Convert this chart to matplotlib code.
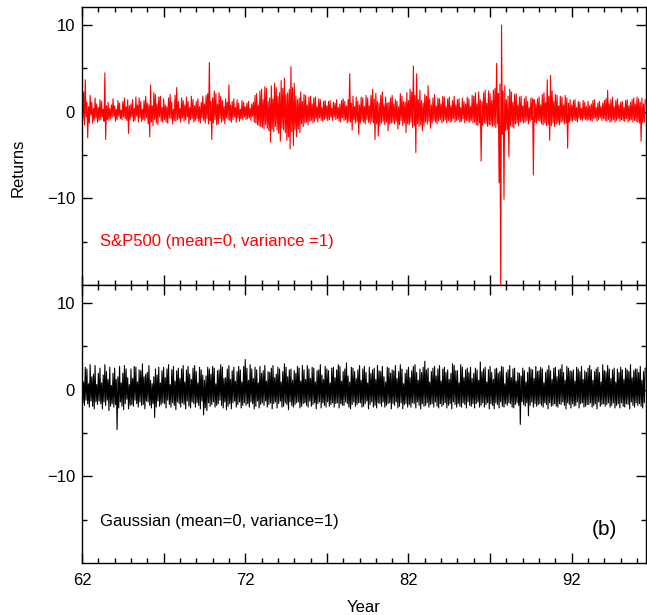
import numpy as np
import matplotlib
matplotlib.use('Agg')
import matplotlib.pyplot as plt
from matplotlib.ticker import MultipleLocator, FixedLocator, FuncFormatter

plt.rcParams['font.family'] = ['Liberation Sans', 'DejaVu Sans']

sp500_returns = [
    1.2, -0.8, 2.3, -1.5, 3.7, -0.6, 1.1, -3.0, 0.6, -1.3, 1.9, -0.4, 1.1, -1.3, 0.4, -1.0, 1.6, -0.7, 0.9, -1.2,  # 62
    0.5, -1.0, 1.4, -0.9, 1.2, -0.6, 0.3, -1.1, 4.5, -3.2, 0.7, -0.9, 1.1, -1.0, 0.4, -0.8, 0.8, -0.6, 1.5, -0.5,  # 63
    0.7, -1.1, 0.3, -0.9, 1.3, -0.5, 1.0, -0.8, 0.2, -0.9, 1.2, -0.6, 1.6, -0.8, 0.6, -1.0, 1.4, -2.5, 0.7, -0.9,  # 64
    0.9, -0.6, 1.4, -1.1, 0.4, -1.0, 1.7, -0.5, 0.8, -1.2, 1.6, -0.7, 1.2, -1.1, 0.3, -0.9, 1.3, -1.0, 1.8, -0.7,  # 65
    1.0, -1.4, 0.8, -2.9, 3.1, -1.2, 0.7, -1.6, 2.2, -0.9, 2.0, -1.3, 0.9, -1.5, 1.7, -0.6, 1.8, -1.1, 0.5, -1.2,  # 66
    1.5, -0.9, 0.8, -1.2, 0.6, -1.3, 1.6, -0.7, 2.0, -0.8, 1.1, -1.4, 0.3, -1.0, 1.9, -1.1, 2.8, -0.9, 1.2, -0.8,  # 67
    0.4, -1.2, 1.6, -0.7, 1.3, -1.1, 0.8, -0.9, 1.7, -0.6, 1.2, -1.4, 0.5, -0.9, 1.8, -0.8, 1.4, -1.2, 0.7, -1.0,  # 68
    1.2, -0.8, 1.5, -1.1, 0.6, -1.3, 1.1, -0.7, 1.8, -1.0, 0.9, -1.3, 1.9, -0.8, 2.1, -1.4, 5.7, -1.0, 1.2, -3.2,  # 69
    1.6, -1.3, 2.4, -0.9, 2.1, -1.5, 0.9, -1.4, 2.2, -0.8, 1.8, -1.2, 1.3, -1.0, 0.6, -1.4, 1.5, -0.7, 1.1, -0.9,  # 70
    3.1, -1.0, 0.8, -1.2, 1.2, -0.9, 1.5, -0.6, 0.5, -1.2, 1.4, -0.7, 1.0, -1.1, 0.3, -0.8, 1.3, -0.9, 1.1, -0.6,  # 71
    0.6, -0.9, 1.0, -0.8, 1.2, -0.7, 0.4, -1.0, 0.9, -0.5, 1.1, -1.2, 1.9, -1.3, 2.1, -1.5, 0.8, -1.6, 2.4, -1.7,  # 72
    2.6, -1.8, 1.4, -2.0, 2.9, -1.5, 2.7, -1.9, 1.2, -2.2, 1.6, -3.5, 3.0, -2.0, 1.5, -2.3, 3.3, -1.7, 2.8, -2.1,  # 73
    1.8, -2.5, 2.2, -3.4, 3.6, -1.9, 2.7, -2.1, 3.9, -2.4, 2.0, -3.3, 2.2, -2.9, 2.6, -4.3, 5.2, -2.3, 2.8, -3.9,  # 74
    3.3, -2.1, 1.8, -2.9, 1.4, -2.0, 1.6, -2.4, 2.3, -1.4, 1.2, -1.7, 2.0, -1.3, 1.9, -1.2, 0.8, -1.5, 1.7, -1.1,  # 75
    1.8, -1.0, 0.9, -1.3, 1.6, -1.1, 1.7, -0.8, 0.6, -1.2, 1.5, -0.7, 1.4, -1.0, 0.5, -1.1, 1.2, -0.9, 1.3, -0.8,  # 76
    0.7, -1.0, 1.2, -0.9, 1.3, -0.6, 0.4, -1.0, 1.1, -0.6, 1.0, -0.9, 1.4, -0.8, 0.5, -1.1, 0.9, -1.2, 1.3, -0.7,  # 77
    1.5, -1.0, 1.2, -0.9, 0.7, -1.3, 1.4, -1.1, 4.4, -1.2, 1.0, -2.1, 1.8, -0.9, 0.6, -1.3, 1.7, -1.1, 1.2, -2.6,  # 78
    0.8, -1.3, 1.7, -1.0, 1.6, -1.2, 0.6, -1.4, 1.9, -0.9, 1.6, -1.2, 0.7, -1.4, 1.9, -1.1, 2.6, -1.3, 1.5, -3.2,  # 79
    2.1, -1.4, 1.2, -2.8, 1.0, -1.6, 1.9, -1.3, 2.3, -1.1, 0.8, -1.5, 1.7, -1.2, 1.0, -2.2, 1.1, -1.4, 1.6, -1.3,  # 80
    1.9, -1.2, 0.9, -1.4, 1.4, -1.1, 1.2, -2.0, 0.6, -1.5, 2.1, -1.0, 1.8, -1.6, 1.2, -1.3, 1.1, -2.4, 2.2, -1.4,  # 81
    1.3, -1.5, 2.6, -1.2, 2.3, -1.8, 5.3, -1.6, 1.9, -4.7, 4.4, -1.4, 1.4, -1.7, 2.5, -1.5, 1.3, -2.2, 1.0, -1.6,  # 82
    2.0, -1.2, 1.8, -1.4, 3.0, -1.1, 1.5, -1.9, 0.8, -1.3, 1.6, -1.0, 2.0, -1.2, 0.7, -1.4, 1.6, -1.1, 1.5, -0.9,  # 83
    0.9, -1.3, 1.8, -1.1, 1.7, -0.9, 0.6, -1.3, 1.5, -1.0, 1.7, -1.2, 0.7, -1.1, 1.3, -0.8, 1.8, -1.2, 0.8, -1.0,  # 84
    1.4, -0.9, 1.5, -1.2, 0.5, -1.1, 1.6, -0.8, 1.2, -1.3, 0.9, -1.0, 1.7, -1.1, 1.5, -1.2, 0.6, -1.0, 1.9, -1.3,  # 85
    1.8, -1.2, 2.2, -1.5, 0.9, -1.6, 2.3, -1.3, 1.4, -5.7, 1.2, -1.6, 2.2, -1.3, 2.5, -1.4, 1.0, -1.7, 2.4, -1.5,  # 86
    2.1, -1.5, 1.3, -1.7, 2.5, -1.6, 2.7, -1.8, 5.6, -1.4, 2.1, -8.2, 3.2, -22.0, 10.0, -2.6, 2.4, -10.1, 3.0, -2.2,  # 87
    1.4, -2.1, 1.8, -5.2, 2.6, -1.6, 2.3, -1.7, 1.1, -1.9, 2.0, -1.4, 2.1, -1.3, 0.8, -1.6, 1.7, -1.2, 1.8, -1.1,  # 88
    0.7, -1.3, 1.5, -1.2, 1.8, -1.0, 1.2, -1.4, 0.5, -1.1, 1.6, -0.9, 1.5, -7.3, 1.4, -1.2, 0.9, -1.3, 1.5, -1.0,  # 89
    1.7, -1.1, 0.8, -1.4, 2.0, -1.5, 2.2, -1.3, 1.1, -1.6, 3.7, -1.5, 1.8, -3.3, 4.2, -1.6, 2.4, -1.3, 1.2, -1.7,  # 90
    2.0, -1.4, 1.9, -1.3, 0.7, -1.5, 1.8, -1.2, 1.7, -1.1, 0.8, -1.4, 1.9, -1.3, 1.6, -4.2, 1.0, -1.2, 1.4, -1.0,  # 91
    0.8, -1.1, 1.3, -0.9, 1.4, -1.0, 0.5, -1.2, 1.2, -0.7, 1.1, -0.9, 0.4, -1.0, 1.3, -0.8, 1.1, -0.9, 0.6, -1.0,  # 92
    1.2, -0.9, 0.7, -1.0, 0.9, -1.1, 1.3, -0.8, 1.4, -0.7, 0.5, -1.1, 1.0, -0.9, 1.2, -0.7, 0.6, -1.0, 1.0, -0.8,  # 93
    1.3, -1.0, 1.5, -1.1, 2.5, -0.9, 0.9, -1.2, 1.4, -1.1, 1.7, -0.9, 0.6, -1.2, 1.3, -1.0, 1.5, -0.8, 0.8, -1.1,  # 94
    1.1, -0.9, 1.2, -1.0, 0.5, -1.1, 1.3, -0.8, 1.4, -1.2, 0.7, -1.0, 1.1, -0.9, 1.4, -1.2, 1.6, -1.0, 0.9, -1.1,  # 95
    1.7, -1.2, 1.5, -1.3, 1.1, -3.4, 1.6, -1.3, 0.9, -1.2, 1.4,                                                     # 96
]

gaussian_returns = [
    2.1, -1.5, 0.9, -1.8, 2.6, -1.2, 2.4, -1.6, 0.7, -2.0, 2.9, -1.3, 1.5, -1.9, 1.8, -2.2, 2.8, -1.4, 0.6, -1.7,  # 62
    1.9, -1.3, 2.5, -1.6, 0.8, -2.2, 1.7, -1.4, 2.9, -1.8, 2.1, -1.2, 1.2, -2.4, 2.6, -1.9, 0.5, -1.6, 1.9, -2.0,  # 63
    2.5, -1.7, 1.2, -4.6, 1.5, -2.1, 2.7, -1.4, 0.8, -1.9, 1.9, -2.3, 2.8, -1.6, 2.4, -1.1, 1.4, -2.2, 0.6, -1.8,  # 64
    2.4, -1.7, 1.3, -1.9, 2.7, -1.2, 2.6, -1.6, 0.9, -2.0, 2.3, -1.4, 2.2, -1.8, 3.0, -1.7, 1.5, -2.2, 1.8, -1.3,  # 65
    2.0, -1.4, 2.8, -1.8, 1.1, -2.1, 0.7, -1.6, 1.5, -3.2, 2.4, -2.0, 1.7, -1.3, 2.6, -1.9, 0.8, -1.7, 2.2, -1.5,  # 66
    2.6, -1.6, 1.4, -2.1, 2.4, -1.2, 2.9, -1.7, 0.6, -2.0, 2.3, -1.5, 2.7, -1.8, 1.0, -2.3, 2.2, -1.4, 2.5, -1.6,  # 67
    1.3, -2.0, 2.4, -1.5, 2.8, -1.7, 0.9, -2.2, 2.3, -1.3, 2.7, -1.9, 1.8, -2.1, 1.2, -1.4, 2.5, -1.6, 2.8, -2.0,  # 68
    2.1, -1.5, 0.8, -1.8, 2.6, -2.2, 2.3, -1.3, 1.7, -2.9, 1.1, -2.1, 1.6, -2.4, 2.6, -1.5, 2.4, -1.9, 1.8, -1.7,  # 69
    2.7, -1.4, 2.5, -2.0, 0.7, -1.8, 2.2, -1.6, 2.3, -1.2, 2.9, -1.8, 2.6, -2.1, 1.3, -1.4, 1.4, -2.3, 2.4, -1.9,  # 70
    2.8, -1.6, 1.2, -2.2, 2.2, -1.5, 2.6, -1.3, 1.0, -2.0, 2.1, -1.7, 2.7, -1.4, 2.3, -2.1, 0.9, -1.8, 2.7, -1.5,  # 71
    3.5, -1.8, 2.5, -1.6, 1.1, -2.0, 2.9, -1.4, 2.4, -1.6, 1.3, -2.2, 2.6, -1.9, 2.3, -1.3, 0.8, -2.1, 2.7, -1.7,  # 72
    1.9, -1.5, 2.2, -1.8, 2.8, -1.3, 1.0, -2.0, 2.1, -1.7, 2.0, -1.5, 2.5, -2.2, 2.8, -1.6, 1.4, -1.4, 1.8, -2.1,  # 73
    2.6, -1.6, 2.4, -1.3, 0.9, -2.0, 2.1, -1.9, 3.0, -1.5, 2.6, -1.7, 1.5, -2.3, 2.3, -1.4, 2.4, -1.8, 1.1, -2.0,  # 74
    2.2, -1.7, 1.9, -1.5, 2.7, -1.4, 2.5, -2.1, 1.0, -1.9, 2.8, -1.6, 2.3, -1.5, 1.2, -1.8, 2.8, -2.0, 2.4, -1.3,  # 75
    1.3, -1.9, 2.6, -1.7, 2.5, -1.5, 0.9, -2.2, 2.2, -1.6, 2.3, -1.4, 2.9, -2.1, 1.7, -1.5, 1.2, -1.8, 2.7, -2.0,  # 76
    2.4, -1.4, 2.2, -1.9, 0.8, -1.7, 2.5, -1.5, 2.6, -2.0, 1.4, -1.6, 2.3, -1.5, 2.9, -2.1, 2.7, -1.6, 1.0, -1.8,  # 77
    2.1, -1.8, 2.4, -1.4, 3.1, -1.6, 1.6, -2.0, 0.9, -2.2, 2.6, -1.7, 2.5, -1.4, 2.1, -1.9, 1.3, -1.7, 2.3, -1.5,  # 78
    2.8, -1.5, 1.1, -2.0, 2.4, -1.9, 2.7, -1.6, 2.0, -1.3, 0.8, -2.2, 2.6, -1.7, 1.9, -1.4, 2.3, -2.0, 2.5, -1.8,  # 79
    1.2, -2.1, 2.8, -1.5, 2.2, -1.6, 2.1, -1.9, 2.7, -1.4, 1.5, -2.0, 0.9, -1.8, 2.6, -1.6, 2.5, -1.5, 1.9, -2.2,  # 80
    2.3, -1.6, 2.2, -1.8, 2.8, -1.4, 1.3, -2.1, 2.1, -1.9, 2.9, -1.5, 2.4, -2.2, 0.7, -1.7, 1.9, -1.6, 2.3, -2.0,  # 81
    2.6, -1.7, 1.4, -2.0, 2.2, -1.5, 2.7, -1.6, 2.9, -2.1, 2.0, -1.4, 1.1, -1.8, 2.4, -2.2, 2.0, -1.6, 2.6, -1.9,  # 82
    3.3, -1.8, 2.3, -1.5, 2.5, -2.0, 0.9, -1.7, 2.1, -1.6, 2.5, -2.0, 2.7, -1.4, 1.6, -1.9, 2.4, -2.1, 2.8, -1.6,  # 83
    1.0, -1.9, 2.4, -1.7, 2.6, -1.5, 2.0, -2.1, 2.3, -1.8, 1.2, -1.6, 1.9, -2.2, 3.0, -1.4, 2.8, -1.7, 2.2, -2.0,  # 84
    2.2, -1.6, 0.8, -1.9, 2.9, -2.0, 2.6, -1.5, 1.4, -1.7, 2.3, -2.1, 2.5, -1.4, 2.0, -1.8, 2.6, -1.9, 1.3, -1.6,  # 85
    1.9, -2.1, 2.5, -1.6, 2.3, -1.4, 1.1, -2.0, 3.2, -1.8, 2.1, -1.5, 2.4, -2.0, 2.6, -1.7, 0.9, -1.5, 2.3, -2.2,  # 86
    2.7, -1.6, 2.0, -1.8, 1.2, -2.2, 2.4, -1.5, 2.5, -1.7, 1.9, -2.1, 2.1, -1.4, 2.7, -1.9, 2.6, -2.0, 0.7, -1.6,  # 87
    2.0, -1.8, 2.3, -1.5, 2.8, -1.6, 1.4, -2.0, 2.4, -2.1, 2.5, -1.7, 1.0, -1.5, 2.0, -1.8, 1.9, -4.0, 1.6, -1.4,  # 88
    2.5, -1.7, 2.2, -1.9, 0.9, -1.5, 2.0, -3.0, 2.6, -1.8, 2.4, -1.4, 2.3, -2.0, 1.3, -1.6, 2.7, -1.9, 2.1, -1.7,  # 89
    2.2, -1.6, 2.6, -1.8, 2.4, -2.0, 0.8, -1.5, 2.0, -1.7, 2.3, -2.2, 2.8, -1.5, 2.2, -1.9, 1.2, -1.8, 2.5, -1.6,  # 90
    2.6, -1.9, 1.5, -2.0, 2.3, -1.6, 2.4, -1.7, 2.9, -1.4, 2.0, -1.8, 1.1, -2.2, 2.7, -1.5, 2.5, -1.7, 2.2, -2.1,  # 91
    2.1, -1.6, 2.3, -1.9, 1.0, -1.8, 2.6, -1.4, 2.4, -2.1, 2.1, -1.6, 2.7, -1.5, 1.2, -2.0, 2.2, -1.9, 2.0, -1.7,  # 92
    2.5, -1.7, 2.8, -1.5, 2.3, -2.0, 1.1, -1.8, 2.1, -1.6, 2.4, -2.2, 2.6, -1.4, 2.0, -1.9, 0.9, -1.7, 2.9, -1.6,  # 93
    2.2, -1.9, 2.1, -1.7, 2.8, -1.5, 2.4, -2.0, 1.3, -1.8, 2.3, -1.5, 2.5, -2.1, 0.9, -1.8, 2.4, -1.6, 2.0, -2.1,  # 94
    2.6, -1.5, 2.3, -1.9, 1.2, -2.0, 2.5, -1.6, 2.3, -1.7, 2.1, -2.2, 2.9, -1.4, 1.4, -1.8, 2.2, -2.0, 2.4, -1.5,  # 95
    2.4, -1.8, 2.0, -1.6, 2.7, -1.9, 1.1, -2.1, 2.1, -1.5, 2.5,                                                     # 96
]

years = np.linspace(62, 96.5, len(sp500_returns))

year_ticks = [62, 72, 82, 92]
y_ticks = [10, 0, -10]

fig = plt.figure(figsize=(6.47, 6.15), dpi=100)
ax1 = fig.add_axes([82/647, 1 - 285/615, 564/647, 278/615])
ax2 = fig.add_axes([82/647, 1 - 563/615, 564/647, 278/615])

ax1.plot(years, sp500_returns, color='#ff0000', lw=0.8)
ax2.plot(years, gaussian_returns, color='black', lw=0.8)

for ax in (ax1, ax2):
    ax.set_xlim(62, 96.55)
    ax.set_ylim(-20, 12.1)
    ax.xaxis.set_major_locator(FixedLocator([62, 67, 72, 77, 82, 87, 92]))
    ax.xaxis.set_minor_locator(MultipleLocator(1))
    ax.yaxis.set_major_locator(FixedLocator(y_ticks))
    ax.yaxis.set_minor_locator(FixedLocator([5, -5, -15]))
    ax.tick_params(which='both', direction='in', top=True, right=True,
                   labelsize=12, width=1)
    ax.tick_params(which='major', length=7, pad=5)
    ax.tick_params(which='minor', length=3.5)
    for s in ax.spines.values():
        s.set_linewidth(1)

ax1.tick_params(axis='x', labelbottom=False)
ax2.xaxis.set_major_formatter(
    FuncFormatter(lambda v, p: f'{v:.0f}' if round(v) in year_ticks else ''))
ax2.tick_params(axis='x', pad=7)

ax1.set_ylabel('Returns', fontsize=12)
ax1.yaxis.set_label_coords(-0.1, 0.42)
ax2.set_xlabel('Year', fontsize=12, labelpad=9)

ax1.text(63.1, -15, 'S&P500 (mean=0, variance =1)', color='#ff0000',
         fontsize=12, va='center')
ax2.text(63.1, -15.2, 'Gaussian (mean=0, variance=1)', color='black',
         fontsize=12, va='center')
ax2.text(94.0, -16.1, '(b)', fontsize=15, ha='center', va='center')

fig.savefig('out.png', dpi=100)
